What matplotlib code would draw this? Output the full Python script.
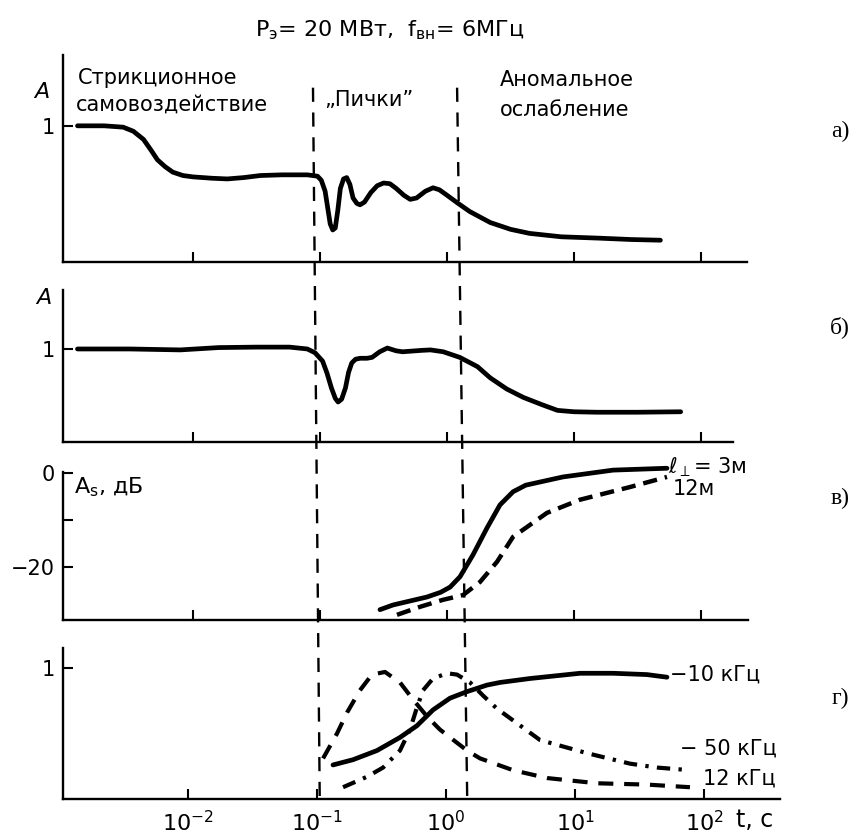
import numpy as np
import matplotlib.pyplot as plt
from matplotlib.lines import Line2D

plt.rcParams['font.family'] = ['DejaVu Sans']
plt.rcParams['mathtext.fontset'] = 'dejavusans'

# --- data (time given as log10 of t in seconds) ---
# panel a
a_lgt = [-2.91, -2.70, -2.55, -2.47, -2.39, -2.33, -2.28, -2.22, -2.16, -2.08, -2.0,
         -1.85, -1.73, -1.6, -1.47, -1.3, -1.1, -1.02, -0.99, -0.96, -0.94, -0.92,
         -0.90, -0.88, -0.86, -0.84, -0.815, -0.79, -0.765, -0.74, -0.71, -0.685,
         -0.65, -0.60, -0.55, -0.50, -0.45, -0.40, -0.34, -0.29, -0.24, -0.17, -0.11,
         -0.06, 0.0, 0.08, 0.18, 0.34, 0.50, 0.65, 0.9, 1.2, 1.45, 1.68]
a_amp = [1.0, 1.0, 0.99, 0.96, 0.90, 0.82, 0.75, 0.70, 0.66, 0.635, 0.625,
         0.615, 0.61, 0.62, 0.635, 0.64, 0.64, 0.63, 0.60, 0.52, 0.40, 0.28,
         0.235, 0.25, 0.38, 0.54, 0.61, 0.62, 0.57, 0.47, 0.43, 0.42,
         0.44, 0.51, 0.56, 0.58, 0.575, 0.54, 0.49, 0.46, 0.47, 0.52, 0.545,
         0.53, 0.49, 0.435, 0.37, 0.29, 0.24, 0.21, 0.185, 0.175, 0.165, 0.16]

# panel b
b_lgt = [-2.91, -2.5, -2.1, -1.8, -1.5, -1.24, -1.1, -1.04, -0.98, -0.945, -0.91,
         -0.88, -0.858, -0.83, -0.80, -0.775, -0.75, -0.72, -0.685, -0.63, -0.59,
         -0.53, -0.47, -0.40, -0.35, -0.2, -0.13, -0.03, 0.10, 0.24, 0.34, 0.47,
         0.60, 0.75, 0.87, 1.0, 1.18, 1.5, 1.84]
b_amp = [1.0, 1.0, 0.99, 1.015, 1.02, 1.02, 1.0, 0.96, 0.87, 0.74, 0.58,
         0.47, 0.43, 0.46, 0.58, 0.75, 0.85, 0.89, 0.90, 0.90, 0.91,
         0.97, 1.01, 0.98, 0.97, 0.985, 0.99, 0.97, 0.91, 0.81, 0.69, 0.57,
         0.48, 0.40, 0.34, 0.325, 0.32, 0.32, 0.325]

# panel c, A_s in dB
c3_lgt = [-0.528, -0.425, -0.157, -0.05, 0.024, 0.102, 0.205, 0.315, 0.417, 0.52,
          0.62, 0.913, 1.307, 1.732]
c3_db = [-29.1, -28.1, -26.4, -25.4, -24.3, -22.1, -17.4, -11.7, -6.8, -4.0,
         -2.6, -0.85, 0.6, 1.0]
c12_lgt = [-0.394, -0.213, -0.031, 0.126, 0.26, 0.394, 0.52, 0.787, 1.047, 1.441, 1.732]
c12_db = [-30.2, -28.5, -27.0, -26.0, -23.2, -18.9, -13.6, -8.5, -5.7, -3.0, -0.85]

# panel d
d10_lgt = [-0.876, -0.721, -0.535, -0.357, -0.225, -0.101, 0.031, 0.163, 0.318,
           0.419, 0.651, 1.039, 1.295, 1.558, 1.713]
d10_amp = [0.26, 0.30, 0.37, 0.47, 0.56, 0.68, 0.77, 0.82, 0.87,
           0.89, 0.92, 0.96, 0.96, 0.95, 0.93]
d12_lgt = [-0.953, -0.845, -0.767, -0.667, -0.574, -0.473, -0.357, -0.256, -0.147,
           -0.047, 0.163, 0.264, 0.519, 0.783, 1.171, 1.558, 1.891]
d12_amp = [0.31, 0.50, 0.66, 0.83, 0.95, 0.97, 0.89, 0.76, 0.63,
           0.53, 0.37, 0.31, 0.22, 0.16, 0.12, 0.11, 0.09]
d50_lgt = [-0.798, -0.612, -0.488, -0.357, -0.279, -0.225, -0.178, -0.101, 0.008,
           0.085, 0.186, 0.287, 0.395, 0.729, 1.093, 1.426, 1.636, 1.891]
d50_amp = [0.09, 0.17, 0.24, 0.37, 0.53, 0.70, 0.83, 0.92, 0.96,
           0.95, 0.89, 0.79, 0.69, 0.45, 0.35, 0.27, 0.24, 0.22]

# region boundaries (t, s): top of panel a / bottom of panel d
bound_top = [0.088, 1.2]
bound_bot = [0.105, 1.46]

x_ticks = [1e-2, 1e-1, 1e0, 1e1, 1e2]
x_ticklabels = ['$10^{-2}$', '$10^{-1}$', '$10^{0}$', '$10^{1}$', '$10^{2}$']

W, H = 856, 840
fig = plt.figure(figsize=(W / 100, H / 100), dpi=100)


def px_axes(left, right, top, bottom):
    return fig.add_axes([left / W, 1 - bottom / H, (right - left) / W, (bottom - top) / H])


def style(ax, xlo, xhi, ylo, yhi):
    ax.set_xscale('log')
    ax.set_xlim(10 ** xlo, 10 ** xhi)
    ax.set_ylim(ylo, yhi)
    for s in ['top', 'right']:
        ax.spines[s].set_visible(False)
    for s in ['left', 'bottom']:
        ax.spines[s].set_linewidth(1.7)
    ax.set_xticks(x_ticks)
    ax.xaxis.set_minor_locator(plt.NullLocator())
    ax.set_xticklabels([])
    ax.tick_params(direction='in', length=7, width=1.5, labelsize=15, pad=6)


thick = dict(color='black', lw=3.4, solid_capstyle='round', dash_capstyle='round')

ax_a = px_axes(63, 747, 55, 262)
style(ax_a, -3.024, 2.362, 0, 1.52)
ax_a.set_yticks([1])
ax_a.set_yticklabels(['1'])
ax_a.plot(10 ** np.array(a_lgt), a_amp, **thick)

ax_b = px_axes(63, 733, 290, 442)
style(ax_b, -3.024, 2.252, 0, 1.634)
ax_b.set_yticks([1])
ax_b.set_yticklabels(['1'])
ax_b.plot(10 ** np.array(b_lgt), b_amp, **thick)

ax_c = px_axes(63, 748, 472, 620)
style(ax_c, -3.024, 2.37, -31.3, 0.2)
ax_c.set_yticks([0, -10, -20])
ax_c.set_yticklabels(['0', '', '\u221220'])
ax_c.plot(10 ** np.array(c3_lgt), c3_db, clip_on=False, **thick)
ax_c.plot(10 ** np.array(c12_lgt), c12_db, clip_on=False, dashes=(3.2, 1.8),
          color='black', lw=3.2, dash_capstyle='butt')

ax_d = px_axes(63, 780, 648, 799)
style(ax_d, -2.969, 2.589, 0, 1.153)
ax_d.set_yticks([1])
ax_d.set_yticklabels(['1'])
ax_d.set_xticklabels(x_ticklabels)
ax_d.tick_params(axis='x', pad=8, labelsize=16)
ax_d.plot(10 ** np.array(d10_lgt), d10_amp, **thick)
ax_d.plot(10 ** np.array(d12_lgt), d12_amp, dashes=(3.6, 2.6), color='black', lw=3.0)
ax_d.plot(10 ** np.array(d50_lgt), d50_amp, dashes=(3.2, 2.0, 0.8, 2.0),
          color='black', lw=3.0)

# dashed boundaries crossing all panels
to_fig = fig.transFigure.inverted()
for tt, tb in zip(bound_top, bound_bot):
    p0 = to_fig.transform(ax_a.transData.transform((tt, 1.28)))
    p1 = to_fig.transform(ax_d.transData.transform((tb, 0.0)))
    fig.add_artist(Line2D([p0[0], p1[0]], [p0[1], p1[1]], transform=fig.transFigure,
                          color='black', lw=1.7, dashes=(6, 4.5)))


def ftext(x, y, s, **kw):
    fig.text(x / W, 1 - y / H, s, **kw)


ftext(390, 30, r'P$_\mathrm{э}$= 20 МВт,  f$_\mathrm{вн}$= 6МГц', fontsize=16,
      ha='center', va='center')
ftext(78, 78, 'Стрикционное', fontsize=15, va='center')
ftext(76, 105, 'самовоздействие', fontsize=15, va='center')
ftext(324, 100, '\u201eПички\u201d', fontsize=15, va='center')
ftext(500, 80, 'Аномальное', fontsize=15, va='center')
ftext(500, 110, 'ослабление', fontsize=15, va='center')

ftext(42, 92, 'A', fontsize=16, style='italic', ha='center', va='center')
ftext(44, 298, 'A', fontsize=16, style='italic', ha='center', va='center')
ftext(74, 487, r'A$_\mathrm{s}$, дБ', fontsize=16, va='center')
ftext(755, 820, 't, с', fontsize=17, ha='center', va='center')

ftext(668, 467, r'$\ell_\perp$= 3м', fontsize=15, va='center')
ftext(673, 489, '12м', fontsize=15, va='center')
ftext(670, 675, '\u221210 кГц', fontsize=15, va='center')
ftext(680, 749, '\u2212 50 кГц', fontsize=15, va='center')
ftext(703, 779, '12 кГц', fontsize=15, va='center')

for y, s in zip([131, 327, 498, 698], ['а)', 'б)', 'в)', 'г)']):
    ftext(840, y, s, fontsize=17, family='Liberation Serif', ha='center', va='center')

fig.savefig('out.png', dpi=100, facecolor='white')
